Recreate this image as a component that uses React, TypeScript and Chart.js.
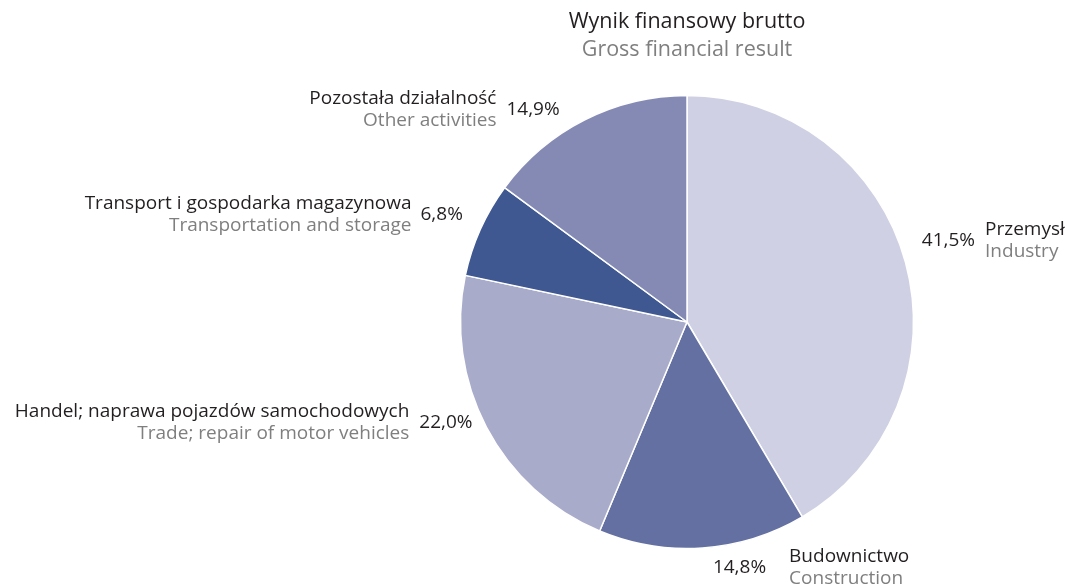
import React, { useEffect, useRef } from "react";
import { Chart, registerables } from "chart.js";

Chart.register(...registerables);

const categoriesPl = [
  "Przemysł",
  "Budownictwo",
  "Handel; naprawa pojazdów samochodowych",
  "Transport i gospodarka magazynowa",
  "Pozostała działalność",
];
const categoriesEn = [
  "Industry",
  "Construction",
  "Trade; repair of motor vehicles",
  "Transportation and storage",
  "Other activities",
];
const shares = [41.5, 14.8, 22.0, 6.8, 14.9];
const sliceColors = ["#cfd0e3", "#6370a1", "#a8abc9", "#3f5891", "#858ab5"];
const titlePl = "Wynik finansowy brutto";
const titleEn = "Gross financial result";

// label placement tweaks (relative nudges from the arc's mid-angle anchor)
const labelNudge: [number, number][] = [
  [-1, -17],
  [9, 2],
  [2, -13],
  [-1, -7],
  [-17, 6],
];
const nameGap = [10, 23, 10, 9, 10];

const FONT = "'Open Sans', 'Noto Sans', sans-serif";
const FONT_SIZE = 19;
const TITLE_SIZE = 21.5;
const DARK = "#231f20";
const GRAY = "#7f7f7f";

const labelPlugin = {
  id: "sliceLabels",
  afterDatasetsDraw(chart: any) {
    const ctx = chart.ctx;
    const meta = chart.getDatasetMeta(0);
    ctx.save();
    ctx.font = `${FONT_SIZE}px ${FONT}`;
    ctx.textBaseline = "middle";
    meta.data.forEach((arc: any, i: number) => {
      const mid = (arc.startAngle + arc.endAngle) / 2;
      const d = arc.outerRadius + 18;
      const ax = arc.x + Math.cos(mid) * d + labelNudge[i][0];
      const ay = arc.y + Math.sin(mid) * d + labelNudge[i][1];
      const right = Math.cos(mid) >= 0;
      const pct = shares[i].toFixed(1).replace(".", ",") + "%";
      const pw = ctx.measureText(pct).width;
      ctx.fillStyle = DARK;
      ctx.textAlign = right ? "left" : "right";
      ctx.fillText(pct, ax, ay);
      const nx = right ? ax + pw + nameGap[i] : ax - pw - nameGap[i];
      ctx.textAlign = right ? "left" : "right";
      ctx.fillStyle = DARK;
      ctx.fillText(categoriesPl[i], nx, ay - 11);
      ctx.fillStyle = GRAY;
      ctx.fillText(categoriesEn[i], nx, ay + 11);
    });
    ctx.restore();
  },
};

export default function App() {
  const ref = useRef<HTMLCanvasElement | null>(null);
  useEffect(() => {
    if (!ref.current) return;
    const chart = new Chart(ref.current, {
      type: "pie",
      data: {
        labels: categoriesPl,
        datasets: [
          {
            data: shares,
            backgroundColor: sliceColors,
            borderColor: "#ffffff",
            borderWidth: 1.5,
          },
        ],
      },
      options: {
        responsive: false,
        animation: false,
        layout: {
          padding: { top: 9, left: 459.75, right: 151.75, bottom: 35.75 },
        },
        plugins: {
          legend: { display: false },
          tooltip: { enabled: false },
          title: {
            display: true,
            text: titlePl,
            color: DARK,
            font: { family: FONT, size: TITLE_SIZE, weight: "normal" },
            padding: { top: 0, bottom: 2.3 },
          },
          subtitle: {
            display: true,
            text: titleEn,
            color: GRAY,
            font: { family: FONT, size: TITLE_SIZE, weight: "normal" },
            padding: { top: 0, bottom: 31.85 },
          },
        },
      },
      plugins: [labelPlugin],
    });
    return () => chart.destroy();
  }, []);
  return (
    <div style={{ position: "absolute", left: 0, top: 0, width: 1066, height: 585, background: "#fff" }}>
      <canvas ref={ref} width={1066} height={585} />
    </div>
  );
}
